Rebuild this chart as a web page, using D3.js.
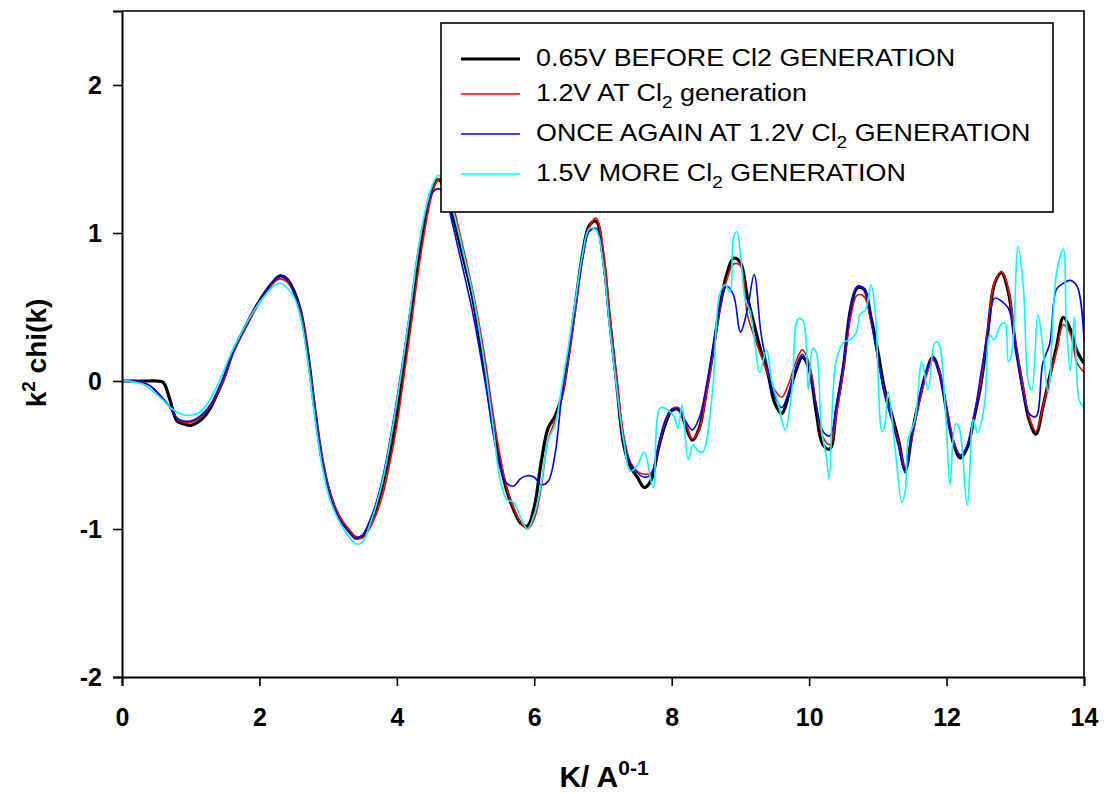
<!DOCTYPE html>
<html>
<head>
<meta charset="utf-8">
<script src="https://cdn.jsdelivr.net/npm/d3@7/dist/d3.min.js"></script>
<style>
  html, body { margin: 0; padding: 0; background: #fff; }
  svg { display: block; }
  text { font-family: "Liberation Sans", Arial, Helvetica, sans-serif; }
</style>
</head>
<body>
<svg id="chart" width="1106" height="794"></svg>
<script>
// Photoelectron wavenumber grid (Å⁻¹), shared by the three smooth scans
const kGrid = [
  0.0,0.1,0.2,0.3,0.4,0.5,0.6,0.7,0.8,0.9,
  1.0,1.1,1.2,1.3,1.4,1.5,1.6,1.7,1.8,1.9,
  2.0,2.1,2.2,2.3,2.4,2.5,2.6,2.7,2.8,2.9,
  3.0,3.1,3.2,3.3,3.4,3.5,3.6,3.7,3.8,3.9,
  4.0,4.1,4.2,4.3,4.4,4.5,4.6,4.7,4.8,4.9,
  5.0,5.1,5.2,5.3,5.4,5.5,5.6,5.7,5.8,5.9,
  6.0,6.1,6.2,6.3,6.4,6.5,6.6,6.7,6.8,6.9,
  7.0,7.1,7.2,7.3,7.4,7.5,7.6,7.7,7.8,7.9,
  8.0,8.1,8.2,8.3,8.4,8.5,8.6,8.7,8.8,8.9,
  9.0,9.1,9.2,9.3,9.4,9.5,9.6,9.7,9.8,9.9,
  10.0,10.1,10.2,10.3,10.4,10.5,10.6,10.7,10.8,10.9,
  11.0,11.1,11.2,11.3,11.4,11.5,11.6,11.7,11.8,11.9,
  12.0,12.1,12.2,12.3,12.4,12.5,12.6,12.7,12.8,12.9,
  13.0,13.1,13.2,13.3,13.4,13.5,13.6,13.7,13.8,13.9,
  14.0
];

// k^2 chi(k) at 0.65 V, before Cl2 generation
const chiBefore065 = [
  0,0,0,0,0,0,-0.01,-0.13,-0.27,-0.29,
  -0.30,-0.28,-0.24,-0.17,-0.07,0.04,0.18,0.28,0.37,0.46,
  0.54,0.61,0.67,0.71,0.69,0.61,0.47,0.20,-0.17,-0.50,
  -0.72,-0.86,-0.95,-1.01,-1.06,-1.05,-0.97,-0.86,-0.69,-0.48,
  -0.22,0.10,0.45,0.78,1.07,1.28,1.36,1.30,1.14,0.96,
  0.77,0.57,0.30,0.02,-0.31,-0.55,-0.74,-0.87,-0.96,-0.98,
  -0.85,-0.55,-0.32,-0.24,-0.10,0.18,0.52,0.85,1.05,1.08,
  0.85,0.40,-0.02,-0.43,-0.58,-0.65,-0.72,-0.67,-0.47,-0.30,
  -0.20,-0.19,-0.30,-0.40,-0.32,-0.08,0.20,0.50,0.72,0.83,
  0.80,0.57,0.38,0.20,0.05,-0.15,-0.22,-0.10,0.06,0.16,
  0.08,-0.20,-0.43,-0.46,-0.18,0.10,0.48,0.63,0.62,0.43,
  0.20,-0.06,-0.22,-0.40,-0.60,-0.35,-0.13,0.05,0.16,0.05,
  -0.20,-0.42,-0.52,-0.45,-0.25,-0.02,0.33,0.66,0.73,0.60,
  0.25,-0.02,-0.26,-0.36,-0.18,0.03,0.23,0.43,0.35,0.20,
  0.12
];

// k^2 chi(k) at 1.2 V, at Cl2 generation
const chiAt12 = [
  0,0,0,-0.01,-0.03,-0.07,-0.12,-0.18,-0.25,-0.28,
  -0.28,-0.26,-0.22,-0.16,-0.07,0.03,0.17,0.27,0.36,0.45,
  0.53,0.60,0.66,0.69,0.67,0.60,0.47,0.21,-0.15,-0.48,
  -0.71,-0.85,-0.94,-1.00,-1.05,-1.06,-1.00,-0.90,-0.76,-0.55,
  -0.30,0.02,0.35,0.70,1.00,1.24,1.36,1.35,1.22,1.03,
  0.83,0.62,0.38,0.10,-0.22,-0.50,-0.72,-0.86,-0.95,-1.00,
  -0.93,-0.72,-0.40,-0.27,-0.12,0.16,0.48,0.82,1.04,1.10,
  0.90,0.45,0.02,-0.36,-0.55,-0.61,-0.63,-0.62,-0.46,-0.28,
  -0.19,-0.18,-0.28,-0.39,-0.33,-0.10,0.18,0.48,0.68,0.79,
  0.78,0.45,0.30,0.17,0.05,-0.06,-0.11,-0.02,0.12,0.21,
  0.12,-0.15,-0.38,-0.43,-0.22,0.08,0.42,0.58,0.57,0.40,
  0.15,-0.08,-0.24,-0.42,-0.58,-0.38,-0.15,0.03,0.14,0.06,
  -0.18,-0.40,-0.50,-0.44,-0.24,0.00,0.35,0.67,0.74,0.62,
  0.27,0.00,-0.24,-0.34,-0.18,0.02,0.20,0.38,0.32,0.12,
  0.06
];

// k^2 chi(k), second scan at 1.2 V
const chiAgain12 = [
  0,0,0,-0.01,-0.03,-0.07,-0.12,-0.18,-0.25,-0.27,
  -0.27,-0.25,-0.21,-0.15,-0.06,0.05,0.18,0.28,0.37,0.46,
  0.54,0.61,0.67,0.71,0.69,0.60,0.45,0.18,-0.18,-0.51,
  -0.73,-0.87,-0.96,-1.02,-1.06,-1.04,-0.95,-0.82,-0.64,-0.40,
  -0.12,0.18,0.50,0.85,1.10,1.26,1.30,1.26,1.08,0.88,
  0.68,0.47,0.22,-0.05,-0.35,-0.58,-0.69,-0.71,-0.66,-0.64,
  -0.65,-0.70,-0.68,-0.50,-0.10,0.20,0.52,0.82,1.01,1.03,
  0.80,0.36,-0.05,-0.40,-0.56,-0.62,-0.65,-0.63,-0.45,-0.27,
  -0.19,-0.20,-0.27,-0.33,-0.25,-0.05,0.22,0.50,0.64,0.58,
  0.33,0.48,0.72,0.32,0.08,-0.10,-0.18,-0.08,0.08,0.18,
  0.08,-0.16,-0.34,-0.37,-0.16,0.12,0.48,0.64,0.62,0.42,
  0.15,-0.10,-0.26,-0.44,-0.62,-0.36,-0.12,0.06,0.16,0.04,
  -0.20,-0.42,-0.50,-0.44,-0.24,0.05,0.32,0.56,0.54,0.49,
  0.25,-0.05,-0.22,-0.24,0.12,0.25,0.62,0.66,0.68,0.64,
  0.28
];

// 1.5 V scan: same grid up to 7.5, then its own (noisier) sampling
const kMore15 = [
  0.0,0.1,0.2,0.3,0.4,0.5,0.6,0.7,0.8,0.9,
  1.0,1.1,1.2,1.3,1.4,1.5,1.6,1.7,1.8,1.9,
  2.0,2.1,2.2,2.3,2.4,2.5,2.6,2.7,2.8,2.9,
  3.0,3.1,3.2,3.3,3.4,3.5,3.6,3.7,3.8,3.9,
  4.0,4.1,4.2,4.3,4.4,4.5,4.6,4.7,4.8,4.9,
  5.0,5.1,5.2,5.3,5.4,5.5,5.6,5.7,5.8,5.9,
  6.0,6.1,6.2,6.3,6.4,6.5,6.6,6.7,6.8,6.9,
  7.0,7.1,7.2,7.3,7.4,7.5,
  7.6,7.73,7.84,8.02,8.09,8.15,8.24,8.31,8.38,8.45,
  8.59,8.7,8.78,8.85,8.9,8.95,9.0,9.07,9.14,9.21,
  9.28,9.38,9.46,9.55,9.65,9.75,9.84,9.91,9.99,10.05,
  10.1,10.18,10.25,10.29,10.39,10.5,10.6,10.69,10.74,10.82,
  10.9,10.96,11.06,11.1,11.15,11.25,11.35,11.4,11.44,11.54,
  11.64,11.73,11.83,11.88,11.98,12.05,12.13,12.18,12.3,12.39,
  12.45,12.55,12.63,12.69,12.79,12.85,12.9,12.95,13.04,13.12,
  13.19,13.24,13.33,13.4,13.48,13.6,13.7,13.74,13.8,13.86,
  13.93,14.0
];
const chiMore15 = [
  0,0,-0.01,-0.02,-0.05,-0.09,-0.13,-0.18,-0.21,-0.23,
  -0.23,-0.22,-0.18,-0.11,-0.02,0.09,0.20,0.29,0.38,0.46,
  0.53,0.59,0.64,0.66,0.63,0.57,0.43,0.15,-0.22,-0.54,
  -0.76,-0.89,-0.98,-1.05,-1.10,-1.09,-0.98,-0.84,-0.66,-0.42,
  -0.14,0.17,0.50,0.85,1.12,1.30,1.39,1.33,1.18,1.00,
  0.80,0.60,0.34,0.04,-0.30,-0.66,-0.80,-0.82,-0.92,-1.00,
  -0.90,-0.70,-0.40,-0.30,-0.04,0.24,0.55,0.85,1.03,1.02,
  0.80,0.35,-0.05,-0.40,-0.61,-0.57,
  -0.48,-0.72,-0.18,-0.23,-0.32,-0.16,-0.53,-0.43,-0.47,-0.48,
  -0.09,0.59,0.65,0.60,0.97,1.01,0.86,0.55,0.47,0.26,
  0.06,0.21,-0.01,-0.15,-0.33,-0.06,0.42,0.41,-0.06,0.22,
  0.20,-0.33,-0.51,-0.66,0.13,0.26,0.28,0.33,0.45,0.48,
  0.65,0.48,-0.34,-0.30,-0.07,-0.45,-0.82,-0.74,-0.40,-0.26,
  0.13,-0.06,0.26,0.26,-0.17,-0.70,-0.29,-0.31,-0.84,-0.26,
  -0.35,-0.17,0.31,0.28,0.38,0.39,0.13,0.19,0.91,0.62,
  -0.01,-0.06,0.45,0.23,-0.08,0.73,0.89,0.43,0.07,0.43,
  -0.13,-0.18
];

const xTicks = [0, 2, 4, 6, 8, 10, 12, 14];
const yTicks = [-2, -1, 0, 1, 2];

const seriesInfo = [
  { k: kGrid,   v: chiBefore065, color: "#000000", width: 3.2, label: ["0.65V BEFORE Cl2 GENERATION"] },
  { k: kGrid,   v: chiAt12,      color: "#ff0000", width: 1.6, label: ["1.2V AT Cl", "2", " generation"] },
  { k: kGrid,   v: chiAgain12,   color: "#0000ff", width: 1.6, label: ["ONCE AGAIN AT 1.2V Cl", "2", " GENERATION"] },
  { k: kMore15, v: chiMore15,    color: "#00ffff", width: 1.6, label: ["1.5V MORE Cl", "2", " GENERATION"] }
];

const svg = d3.select("#chart");
const plot = { left: 122, right: 1084, top: 11, bottom: 677 };

const x = d3.scaleLinear().domain([0, 14]).range([plot.left, plot.right]);
const y = d3.scaleLinear().domain([-2, 2.5]).range([plot.bottom, plot.top]);

svg.append("defs").append("clipPath").attr("id", "plotClip")
  .append("rect")
  .attr("x", plot.left).attr("y", plot.top)
  .attr("width", plot.right - plot.left).attr("height", plot.bottom - plot.top);

// Curves
const line = d3.line()
  .x(d => x(d[0]))
  .y(d => y(d[1]))
  .curve(d3.curveCatmullRom.alpha(0.5));

const curves = svg.append("g").attr("clip-path", "url(#plotClip)");
seriesInfo.forEach(s => {
  const pts = s.k.map((kv, i) => [kv, s.v[i]]);
  curves.append("path")
    .datum(pts)
    .attr("d", line)
    .attr("fill", "none")
    .attr("stroke", s.color)
    .attr("stroke-width", s.width)
    .attr("stroke-linejoin", "round");
});

// Frame (top and right edges)
svg.append("path")
  .attr("d", `M${plot.left},${plot.top}H${plot.right}V${plot.bottom}`)
  .attr("fill", "none")
  .attr("stroke", "#000")
  .attr("stroke-width", 1.6);

// Axes
const fontFam = '"Liberation Sans", Arial, Helvetica, sans-serif';

const yAxis = svg.append("g")
  .attr("transform", `translate(${plot.left},0)`)
  .call(d3.axisLeft(y).tickValues(yTicks).tickSize(9).tickPadding(11).tickFormat(d => String(d)));
const xAxis = svg.append("g")
  .attr("transform", `translate(0,${plot.bottom})`)
  .call(d3.axisBottom(x).tickValues(xTicks).tickSize(9).tickPadding(22).tickFormat(d => String(d)));

[yAxis, xAxis].forEach(g => {
  g.attr("font-size", null).attr("font-family", null);
  g.select(".domain").attr("stroke", "#000").attr("stroke-width", 2);
  g.selectAll(".tick line").attr("stroke", "#000").attr("stroke-width", 1.6);
  g.selectAll(".tick text")
    .attr("fill", "#000")
    .style("font-family", fontFam)
    .style("font-weight", "bold")
    .style("font-size", "25px");
});

// Axis titles
const yTitle = svg.append("text")
  .attr("transform", "translate(46,353) rotate(-90)")
  .attr("text-anchor", "middle")
  .style("font-size", "28px")
  .style("font-weight", "bold")
  .attr("fill", "#000");
yTitle.append("tspan").text("k");
yTitle.append("tspan").attr("dy", -11).style("font-size", "19px").text("2");
yTitle.append("tspan").attr("dy", 11).text(" chi(k)");

const xTitle = svg.append("text")
  .attr("x", 604).attr("y", 787)
  .attr("text-anchor", "middle")
  .style("font-size", "30px")
  .style("font-weight", "bold")
  .attr("fill", "#000");
xTitle.append("tspan").text("K/ A");
xTitle.append("tspan").attr("dy", -12).style("font-size", "21px").text("0-1");

// Legend
const legend = svg.append("g");
legend.append("rect")
  .attr("x", 441).attr("y", 23)
  .attr("width", 612).attr("height", 189)
  .attr("fill", "#fff")
  .attr("stroke", "#000")
  .attr("stroke-width", 1.6);

const rowY = [59, 94, 134, 174];
seriesInfo.forEach((s, i) => {
  legend.append("line")
    .attr("x1", 461).attr("x2", 520)
    .attr("y1", rowY[i]).attr("y2", rowY[i])
    .attr("stroke", s.color)
    .attr("stroke-width", s.width);
  const t = legend.append("text")
    .attr("transform", `translate(536,${rowY[i] + 6.5}) scale(1.12,1)`)
    .style("font-size", "24px")
    .attr("fill", "#000");
  t.append("tspan").text(s.label[0]);
  if (s.label.length > 1) {
    t.append("tspan").attr("dy", 7).style("font-size", "17px").text(s.label[1]);
    t.append("tspan").attr("dy", -7).text(s.label[2]);
  }
});
</script>
</body>
</html>
